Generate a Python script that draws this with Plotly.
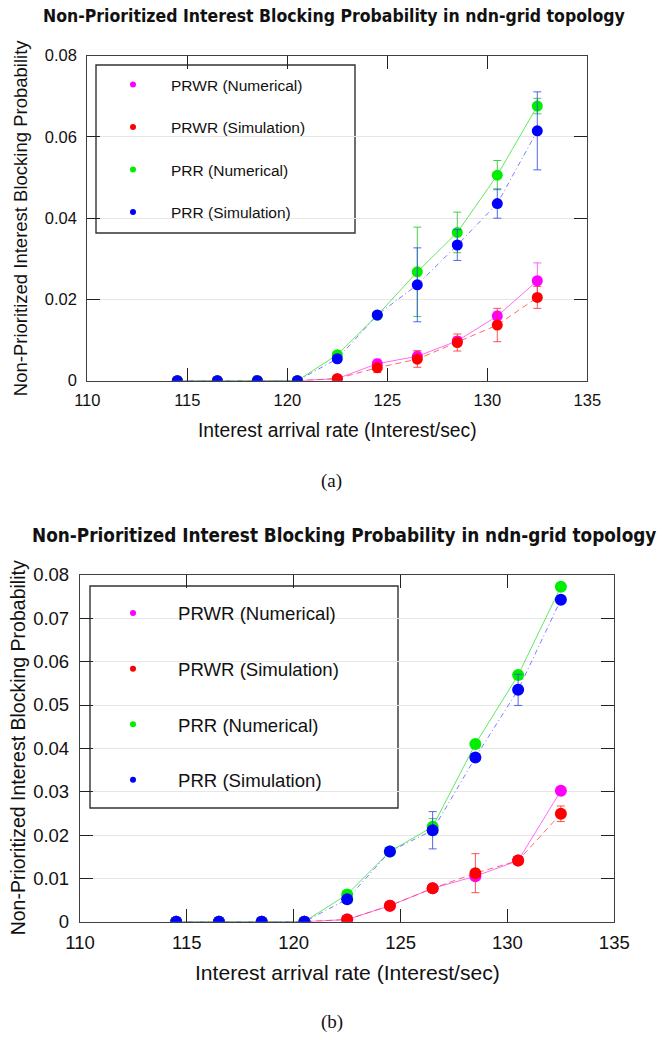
import plotly.graph_objects as go

W, H = 663, 1040

# Interest arrival rates (Interest/sec)
rate = [114.5, 116.5, 118.5, 120.5, 122.5, 124.5, 126.5, 128.5, 130.5, 132.5]

# (a) blocking probabilities
a_prwr_num = [0, 0, 0, 0, 0.0005, 0.0042, 0.0060, 0.0098, 0.0159, 0.0246]
a_prwr_sim = [0, 0, 0, 0, 0.0005, 0.0032, 0.0053, 0.0094, 0.0137, 0.0205]
a_prr_num = [0, 0, 0, 0, 0.0064, 0.0161, 0.0268, 0.0365, 0.0506, 0.0676]
a_prr_sim = [0, 0, 0, 0, 0.0054, 0.0162, 0.0236, 0.0334, 0.0436, 0.0615]
a_prwr_num_err = [0, 0, 0, 0, 0.0002, 0.0011, 0.0014, 0.0010, 0.0012, 0.0044]
a_prwr_sim_err = [0, 0, 0, 0, 0.0003, 0.0012, 0.0020, 0.0021, 0.0041, 0.0027]
a_prr_num_err = [0, 0, 0, 0, 0.0005, 0.0005, 0.0110, 0.0050, 0.0036, 0.0019]
a_prr_sim_err = [0, 0, 0, 0, 0.0005, 0.0005, 0.0091, 0.0038, 0.0036, 0.0096]

# (b) blocking probabilities
b_prwr_num = [0, 0, 0, 0, 0.0005, 0.0037, 0.0077, 0.0105, 0.0141, 0.0302]
b_prwr_sim = [0, 0, 0, 0, 0.0005, 0.0037, 0.0077, 0.0112, 0.0141, 0.0249]
b_prr_num = [0, 0, 0, 0, 0.0063, 0.0162, 0.0219, 0.0410, 0.0569, 0.0773]
b_prr_sim = [0, 0, 0, 0, 0.0052, 0.0162, 0.0211, 0.0379, 0.0535, 0.0743]
b_prwr_num_err = [0, 0, 0, 0, 0.0002, 0.0003, 0.0003, 0.0004, 0.0004, 0.0004]
b_prwr_sim_err = [0, 0, 0, 0, 0.0003, 0.0003, 0.0004, 0.0045, 0.0004, 0.0018]
b_prr_num_err = [0, 0, 0, 0, 0.0004, 0.0004, 0.0019, 0.0005, 0.0005, 0.0005]
b_prr_sim_err = [0, 0, 0, 0, 0.0004, 0.0004, 0.0043, 0.0005, 0.0036, 0.0005]

series_names = ["PRWR (Numerical)", "PRWR (Simulation)", "PRR (Numerical)", "PRR (Simulation)"]
x_ticks = [110, 115, 120, 125, 130, 135]

styles = [
    dict(marker="#ff00ff", line="rgba(255,80,255,0.85)", dash="solid", err="rgba(255,60,255,0.8)"),
    dict(marker="#ff0000", line="rgba(255,70,70,0.8)", dash="6px,4px", err="rgba(255,40,40,0.8)"),
    dict(marker="#00ee00", line="rgba(80,230,80,0.9)", dash="solid", err="rgba(40,200,40,0.85)"),
    dict(marker="#0000ff", line="rgba(110,110,255,0.9)", dash="5px,3px,1px,3px", err="rgba(50,80,230,0.85)"),
]

FONT = "Liberation Sans, Arial, sans-serif"


def px_x(p):
    return p / W


def px_y(p):
    return 1 - p / H


panels = [
    dict(
        xa="x", ya="y", legend="legend",
        series=[a_prwr_num, a_prwr_sim, a_prr_num, a_prr_sim],
        errs=[a_prwr_num_err, a_prwr_sim_err, a_prr_num_err, a_prr_sim_err],
        xdom=[px_x(87.3), px_x(587.3)], ydom=[px_y(380.7), px_y(55.7)],
        yticks=[0, 0.02, 0.04, 0.06, 0.08], ytext=["0", "0.02", "0.04", "0.06", "0.08"],
        msize=11, tick=16.5, lab=18.5, xlab=19.3, title=17.5, title_x=334, cap="(a)",
        title_y=16, xlab_y=430, ylab_x=20, cap_y=481,
        box=(96, 65, 355, 233), leg_x=95, leg_y=68, leg_font=15.5, gap=19.3, iw=66,
    ),
    dict(
        xa="x2", ya="y2", legend="legend2",
        series=[b_prwr_num, b_prwr_sim, b_prr_num, b_prr_sim],
        errs=[b_prwr_num_err, b_prwr_sim_err, b_prr_num_err, b_prr_sim_err],
        xdom=[px_x(80), px_x(614.3)], ydom=[px_y(921.7), px_y(575)],
        yticks=[0, 0.01, 0.02, 0.03, 0.04, 0.05, 0.06, 0.07, 0.08],
        ytext=["0", "0.01", "0.02", "0.03", "0.04", "0.05", "0.06", "0.07", "0.08"],
        msize=12, tick=18.5, lab=19.5, xlab=21.1, title=18.8, title_x=344, cap="(b)",
        title_y=535, xlab_y=972, ylab_x=18, cap_y=1022,
        box=(90, 586, 398, 808), leg_x=88, leg_y=594.5, leg_font=18.6, gap=28.4, iw=80,
    ),
]

fig = go.Figure()
annotations = []
shapes = []
layout = {}

for i, p in enumerate(panels):
    for k, (vals, errs, st) in enumerate(zip(p["series"], p["errs"], styles)):
        fig.add_trace(go.Scatter(
            x=rate, y=vals, xaxis=p["xa"], yaxis=p["ya"], mode="lines+markers",
            showlegend=False,
            line=dict(color=st["line"], width=1, dash=st["dash"]),
            marker=dict(color=st["marker"], size=p["msize"]),
            error_y=dict(type="data", array=errs, visible=True, color=st["err"],
                         thickness=1, width=4),
        ))
    # legend entries: small dots only
    for k, (name, st) in enumerate(zip(series_names, styles)):
        fig.add_trace(go.Scatter(
            x=[None], y=[None], xaxis=p["xa"], yaxis=p["ya"], mode="markers",
            name=name, legend=p["legend"], legendgroup=f"{i}-{k}",
            marker=dict(color=st["marker"], size=6),
        ))

    axis_common = dict(
        showline=True, mirror="ticks", linecolor="#404040", linewidth=1.3,
        ticks="inside", ticklen=13, tickwidth=1.3, tickcolor="#222",
        tickfont=dict(family=FONT, size=p["tick"], color="#111"),
        zeroline=False,
    )
    xname = "xaxis" if p["xa"] == "x" else "xaxis2"
    yname = "yaxis" if p["ya"] == "y" else "yaxis2"
    layout[xname] = dict(
        axis_common, domain=p["xdom"], anchor=p["ya"], range=[110, 135],
        tickvals=x_ticks, ticktext=[str(t) for t in x_ticks], showgrid=False,
        ticklabelstandoff=4,
    )
    layout[yname] = dict(
        axis_common, domain=p["ydom"], anchor=p["xa"], range=[0, 0.08],
        tickvals=p["yticks"], ticktext=p["ytext"], showgrid=True,
        gridcolor="#e6e6e6", gridwidth=1, ticklabelstandoff=6,
    )
    layout[p["legend"]] = dict(
        x=px_x(p["leg_x"]), y=px_y(p["leg_y"]), xanchor="left", yanchor="top",
        bgcolor="rgba(0,0,0,0)", borderwidth=0,
        font=dict(family=FONT, size=p["leg_font"], color="#111"),
        tracegroupgap=p["gap"], itemsizing="trace", itemwidth=p["iw"],
    )
    x0, y0, x1, y1 = p["box"]
    shapes.append(dict(type="rect", xref="paper", yref="paper",
                       x0=px_x(x0), x1=px_x(x1), y0=px_y(y1), y1=px_y(y0),
                       line=dict(color="#333", width=1.4), fillcolor="white", layer="below"))

    cx = (p["xdom"][0] + p["xdom"][1]) / 2
    cy = (p["ydom"][0] + p["ydom"][1]) / 2
    annotations += [
        dict(text="<b>Non-Prioritized Interest Blocking Probability in ndn-grid topology</b>",
             xref="paper", yref="paper", x=px_x(p["title_x"]), y=px_y(p["title_y"]),
             xanchor="center", yanchor="middle", showarrow=False,
             font=dict(family="DejaVu Sans Condensed, DejaVu Sans, sans-serif",
                       size=p["title"], color="#111")),
        dict(text="Interest arrival rate (Interest/sec)", xref="paper", yref="paper",
             x=cx, y=px_y(p["xlab_y"]), xanchor="center", yanchor="middle", showarrow=False,
             font=dict(family=FONT, size=p["xlab"], color="#111")),
        dict(text="Non-Prioritized Interest Blocking Probability", xref="paper", yref="paper",
             x=px_x(p["ylab_x"]), y=cy, xanchor="center", yanchor="middle", showarrow=False,
             textangle=-90, font=dict(family=FONT, size=p["lab"], color="#111")),
        dict(text=p["cap"], xref="paper", yref="paper", x=px_x(331.5), y=px_y(p["cap_y"]),
             xanchor="center", yanchor="middle", showarrow=False,
             font=dict(family="Liberation Serif, DejaVu Serif, serif", size=19, color="#111")),
    ]

fig.update_layout(
    width=W, height=H, margin=dict(l=0, r=0, t=0, b=0, autoexpand=False),
    paper_bgcolor="white", plot_bgcolor="rgba(0,0,0,0)",
    shapes=shapes, annotations=annotations, **layout,
)

fig.write_html("out.html", post_script="document.body.style.margin='0px';")
